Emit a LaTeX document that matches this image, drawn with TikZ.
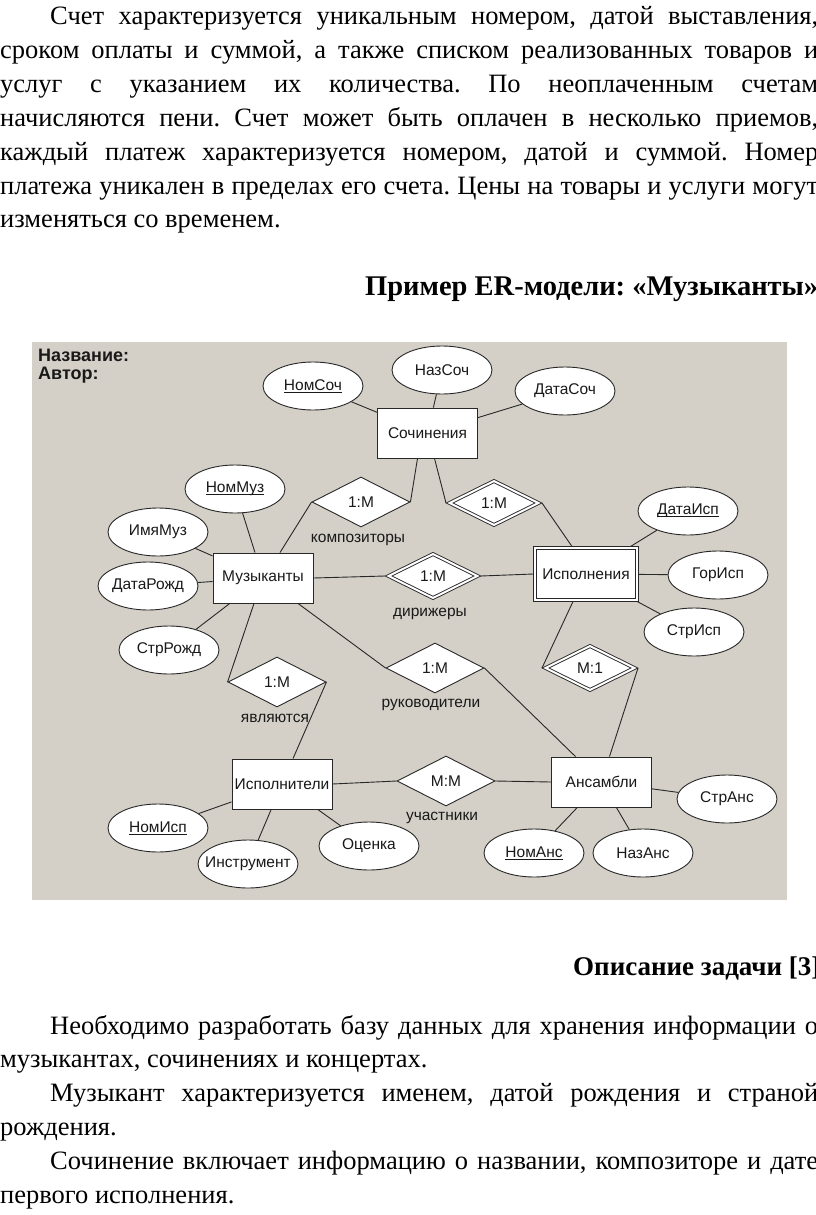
\documentclass[tikz,border=0pt]{standalone}
\usepackage{fontspec}
\setmainfont{Liberation Serif}
\newfontfamily\bodyfont{Liberation Serif}
\newfontfamily\diafont{Liberation Sans}
\usetikzlibrary{shapes.geometric,calc}
\definecolor{bg}{RGB}{212,208,200}
\definecolor{lc}{RGB}{40,40,40}
\definecolor{tc}{RGB}{25,25,25}
\newcommand\zc[1]{\makebox[0pt]{#1}}
\newcommand\ulx[1]{\setbox0\hbox{#1}\rlap{\rule[-2.5pt]{\wd0}{0.8pt}}\box0}
\frenchspacing
\begin{document}
\frenchspacing
\begin{tikzpicture}[x=1pt,y=-1pt,
  bl/.style={anchor=base west, inner sep=0pt, font=\bodyfont\fontsize{26.5}{28}\selectfont},
  bh/.style={anchor=base west, inner sep=0pt, font=\bodyfont\bfseries\fontsize{28.5}{30}\selectfont},
  conn/.style={draw=lc, line width=0.9pt},
  ent/.style={draw=lc, line width=0.9pt, fill=white, rectangle, minimum width=100pt, minimum height=50pt, inner sep=0pt, text=tc, font=\diafont\fontsize{15.5}{17}\selectfont},
  went/.style={ent, double=white, double distance=2pt, minimum width=102pt, minimum height=52pt, outer sep=1.5pt},
  att/.style={draw=lc, line width=0.9pt, fill=white, ellipse, minimum width=100pt, minimum height=48pt, inner sep=0pt, text=tc, font=\diafont\fontsize{15.5}{17}\selectfont},
  rel/.style={draw=lc, line width=0.9pt, fill=white, diamond, minimum width=98pt, minimum height=50pt, inner sep=0pt, text=tc, font=\diafont\fontsize{15.5}{17}\selectfont},
  wrel/.style={rel, double=white, double distance=2pt, minimum width=91pt, minimum height=46pt, outer sep=2.5pt},
  rlab/.style={anchor=base, inner sep=0pt, text=tc, font=\diafont\fontsize{15.5}{17}\selectfont},
  ttl/.style={anchor=base west, inner sep=0pt, text=tc, font=\diafont\bfseries\fontsize{18}{20}\selectfont}
]
\useasboundingbox (0,0) rectangle (816,1215);
\fill[white] (0,0) rectangle (816,1215);

% ---- top text ----
\node[bl] (t1) at (50,25) {\makebox[768pt][s]{Счет характеризуется уникальным номером, датой выставления,}};
\node[bl] (t2) at (0,58.8) {\makebox[818pt][s]{сроком оплаты и суммой, а также списком реализованных товаров и}};
\node[bl] (t3) at (0,92.6) {\makebox[818pt][s]{услуг с указанием их количества. По неоплаченным счетам}};
\node[bl] (t4) at (0,126.4) {\makebox[818pt][s]{начисляются пени. Счет может быть оплачен в несколько приемов,}};
\node[bl] (t5) at (0,160.2) {\makebox[818pt][s]{каждый платеж характеризуется номером, датой и суммой. Номер}};
\node[bl] (t6) at (0,194) {\makebox[818pt][s]{платежа уникален в пределах его счета. Цены на товары и услуги могут}};
\node[bl] (t7) at (0,227.8) {изменяться со временем.};

\node[bh] (h1) at (365,295) {Пример ER-модели: «Музыканты»};

% ---- diagram background ----
\fill[bg] (32,342) rectangle (787,900);
\node[ttl] (nazv) at (38,361) {Название:};
\node[ttl] (avt) at (38,379) {Автор:};

% entities
\node[ent] (soch) at (427.5,433) {Сочинения};
\node[ent] (muz) at (263,578) {Музыканты};
\node[went] (isp) at (586,574) {Исполнения};
\node[ent] (ispl) at (282,784) {Исполнители};
\node[ent] (ans) at (601.5,782) {Ансамбли};

% attributes
\node[att] (nomsoch) at (313,386) {\zc{\ulx{НомСоч}}};
\node[att] (nazsoch) at (442,370) {\zc{НазСоч}};
\node[att] (datasoch) at (565,391) {\zc{ДатаСоч}};
\node[att] (nommuz) at (235,489) {\zc{\ulx{НомМуз}}};
\node[att] (imjamuz) at (158,532) {\zc{ИмяМуз}};
\node[att] (datarozhd) at (148,586) {\zc{ДатаРожд}};
\node[att] (strrozhd) at (169,650) {\zc{СтрРожд}};
\node[att] (dataisp) at (688,511) {\zc{\ulx{ДатаИсп}}};
\node[att] (gorisp) at (718,575) {\zc{ГорИсп}};
\node[att] (strisp) at (694,632) {\zc{СтрИсп}};
\node[att] (nomisp) at (158,828) {\zc{\ulx{НомИсп}}};
\node[att] (instr) at (248,864) {\zc{Инструмент}};
\node[att] (ocenka) at (369,846) {\zc{Оценка}};
\node[att] (nomans) at (534,853) {\zc{\ulx{НомАнс}}};
\node[att] (nazans) at (643,853) {\zc{НазАнс}};
\node[att] (strans) at (727,799) {\zc{СтрАнс}};

% relationships
\node[rel] (komp) at (361,502) {1:M};
\node[wrel] (rsi) at (494,503) {1:M};
\node[wrel] (dir) at (433,576) {1:M};
\node[rel] (jav) at (277,682) {1:M};
\node[rel] (ruk) at (435,668) {1:M};
\node[wrel] (m1) at (590,668) {M:1};
\node[rel] (uch) at (446,781) {M:M};

\node[rlab] (lkomp) at (358,542) {композиторы};
\node[rlab] (ldir) at (430,616) {дирижеры};
\node[rlab] (ljav) at (275,722) {являются};
\node[rlab] (lruk) at (431,707) {руководители};
\node[rlab] (luch) at (442,820) {участники};

% connectors
\draw[conn] (nomsoch) -- (soch);
\draw[conn] (nazsoch) -- (soch);
\draw[conn] (datasoch) -- (soch);
\draw[conn] ($(soch.south)+(-10,0)$) -- (komp.east);
\draw[conn] ($(soch.south)+(7,0)$) -- (rsi.west);
\draw[conn] (rsi.east) -- ($(isp.north)+(-14,0)$);
\draw[conn] (komp.west) -- ($(muz.north)+(17,0)$);
\draw[conn] (nommuz) -- (muz);
\draw[conn] (imjamuz) -- (muz);
\draw[conn] (datarozhd) -- (muz);
\draw[conn] (strrozhd) -- (muz);
\draw[conn] ($(muz.south)+(-9,0)$) -- (jav.west);
\draw[conn] (jav.east) -- ($(ispl.north)+(11,0)$);
\draw[conn] (muz.east) -- (dir.west);
\draw[conn] (dir.east) -- (isp.west);
\draw[conn] ($(muz.south)+(35,0)$) -- (ruk.west);
\draw[conn] (ruk.east) -- ($(ans.north)+(-26,0)$);
\draw[conn] ($(isp.south)+(-13,0)$) -- (m1.west);
\draw[conn] (m1.east) -- ($(ans.north)+(8,0)$);
\draw[conn] (dataisp) -- (isp);
\draw[conn] (gorisp) -- (isp);
\draw[conn] (strisp) -- (isp);
\draw[conn] (ispl.east) -- (uch.west);
\draw[conn] (uch.east) -- (ans.west);
\draw[conn] (nomisp) -- (ispl);
\draw[conn] (instr) -- (ispl);
\draw[conn] (ocenka) -- (ispl);
\draw[conn] (nomans) -- (ans);
\draw[conn] (nazans) -- (ans);
\draw[conn] (strans) -- (ans);

% ---- bottom text ----
\node[bh, font=\bodyfont\bfseries\fontsize{27}{29}\selectfont] (h2) at (573,975) {Описание задачи [3]};
\node[bl] (b1) at (50,1034) {\makebox[768pt][s]{Необходимо разработать базу данных для хранения информации о}};
\node[bl] (b2) at (0,1067.8) {музыкантах, сочинениях и концертах.};
\node[bl] (b3) at (50,1101.6) {\makebox[768pt][s]{Музыкант характеризуется именем, датой рождения и страной}};
\node[bl] (b4) at (0,1135.4) {рождения.};
\node[bl] (b5) at (50,1169.2) {\makebox[768pt][s]{Сочинение включает информацию о названии, композиторе и дате}};
\node[bl] (b6) at (0,1203) {первого исполнения.};
\end{tikzpicture}
\end{document}
